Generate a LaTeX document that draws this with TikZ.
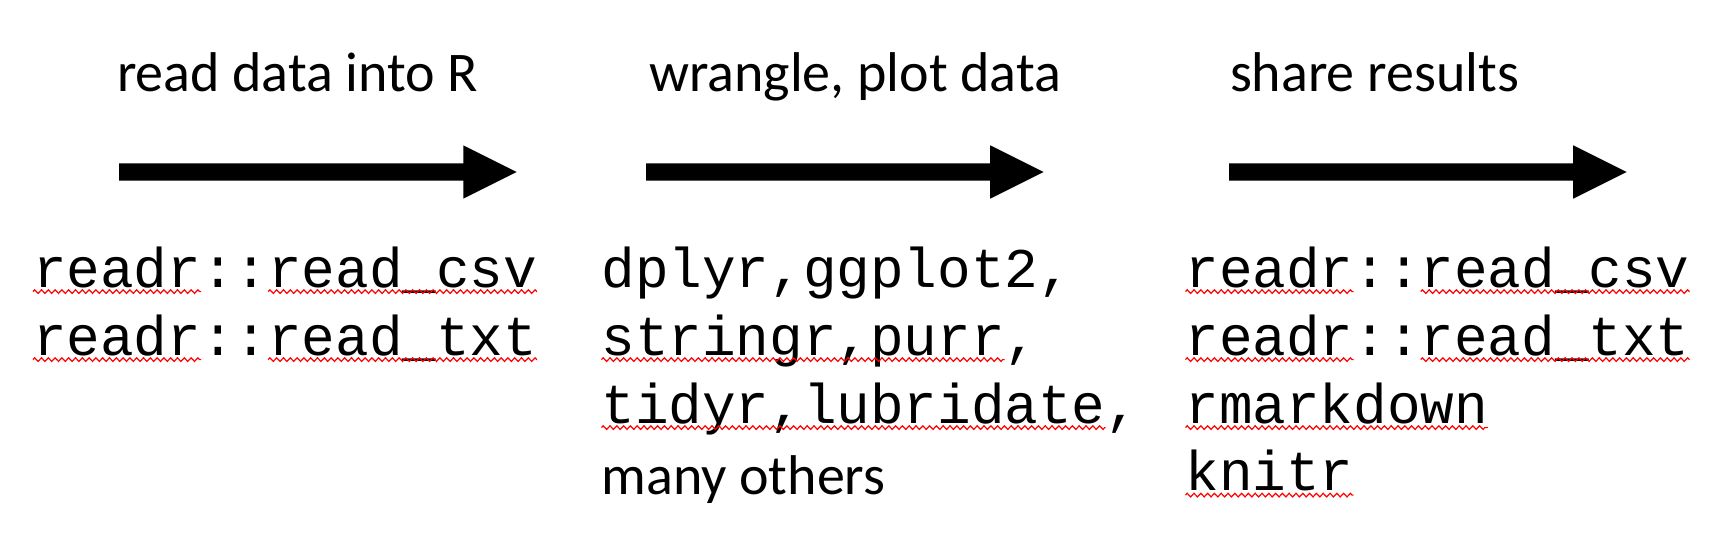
\documentclass[tikz,border=0pt]{standalone}
\usepackage{fontspec}
\setmainfont{Carlito}
\newfontfamily\monof{Liberation Mono}
\usetikzlibrary{calc,decorations.pathmorphing}
\tikzset{
  head/.style={anchor=base west, inner sep=0pt, outer sep=0pt, font=\fontsize{28pt}{34pt}\selectfont},
  code/.style={anchor=base west, inner sep=0pt, outer sep=0pt, font=\monof\fontsize{28pt}{34pt}\selectfont},
  squiggle/.style={draw=red, line width=0.6pt, decorate, decoration={zigzag, segment length=3.4pt, amplitude=0.9pt}},
  flow/.style={fill=black}
}
% squiggle under cells #2..#3 of a monospaced node #1 (cell = 33.6 px)
\newcommand\squig[3]{\draw[squiggle] ($(#1.base west)+(#2*33.6,4.6)$) -- ($(#1.base west)+(#3*33.6,4.6)$);}
\newcommand\flowarrow[2]{\fill[flow] ($(#1)+(0,-8.7)$) -- ($(#2)+(-53.4,-8.7)$) -- ($(#2)+(-53.4,-26.7)$) -- (#2) -- ($(#2)+(-53.4,26.7)$) -- ($(#2)+(-53.4,8.7)$) -- ($(#1)+(0,8.7)$) -- cycle;}
\begin{document}
\begin{tikzpicture}[x=0.5pt,y=-0.5pt]
\useasboundingbox[fill=white] (0,0) rectangle (1732,556);
% headers
\node[head] (h1) at (117,91.7) {read data into R};
\node[head] (h2) at (649,91.7) {wrangle, plot data};
\node[head] (h3) at (1230,91.7) {share results};
% arrows
\coordinate (a1s) at (119,172); \coordinate (a1e) at (516.7,172);
\coordinate (a2s) at (646,172); \coordinate (a2e) at (1043.6,172);
\coordinate (a3s) at (1229,172); \coordinate (a3e) at (1626.6,172);
\flowarrow{a1s}{a1e}
\flowarrow{a2s}{a2e}
\flowarrow{a3s}{a3e}
% left column
\node[code] (l1) at (33,287) {readr::read\_csv};
\node[code] (l2) at (33,355) {readr::read\_txt};
% middle column
\node[code] (m1) at (601.5,287) {dplyr,ggplot2,};
\node[code] (m2) at (601.5,355) {stringr,purr,};
\node[code] (m3) at (601.5,423) {tidyr,lubridate,};
\node[head] (m4) at (601.5,494.5) {many others};
% right column
\node[code] (r1) at (1185.5,287) {readr::read\_csv};
\node[code] (r2) at (1185.5,355) {readr::read\_txt};
\node[code] (r3) at (1185.5,423) {rmarkdown};
\node[code] (r4) at (1185.5,490.5) {knitr};
% spell-check squiggles
\squig{l1}{0}{5} \squig{l1}{7}{15}
\squig{l2}{0}{5} \squig{l2}{7}{15}
\squig{m2}{0}{12}
\squig{m3}{0}{15}
\squig{r1}{0}{5} \squig{r1}{7}{15}
\squig{r2}{0}{5} \squig{r2}{7}{15}
\squig{r3}{0}{9}
\squig{r4}{0}{5}
\end{tikzpicture}
\end{document}
